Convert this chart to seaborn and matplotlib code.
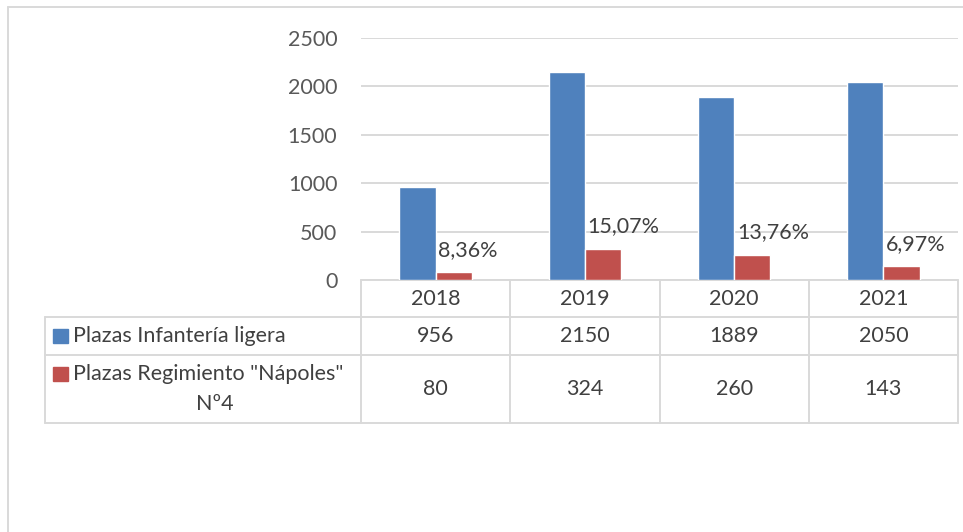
import matplotlib
matplotlib.use("Agg")
import matplotlib.pyplot as plt
from matplotlib.lines import Line2D
from matplotlib.patches import Rectangle
import pandas as pd
import seaborn as sns

# data
years = ["2018", "2019", "2020", "2021"]
infanteria = [956, 2150, 1889, 2050]
napoles = [80, 324, 260, 143]
pct_labels = ["8,36%", "15,07%", "13,76%", "6,97%"]
series_names = ["Plazas Infantería ligera", 'Plazas Regimiento "Nápoles"\nNº4']

BLUE = "#4F81BD"
RED = "#C0504D"
GRID = "#D9D9D9"
TXT = "#404040"
FS = 15.5

sns.set_style("white")
plt.rcParams["font.family"] = ["Lato", "DejaVu Sans"]

df = pd.DataFrame({
    "year": years * 2,
    "value": infanteria + napoles,
    "serie": ["inf"] * 4 + ["nap"] * 4,
})

W, H = 963, 532
fig = plt.figure(figsize=(W / 100, H / 100), dpi=100)
# plot area in pixels: x 361..958, y 38..280
ax = fig.add_axes([361 / W, 1 - 280 / H, 597 / W, 242 / H])

sns.barplot(data=df, x="year", y="value", hue="serie", palette=[BLUE, RED],
            width=0.485, saturation=1, legend=False, ax=ax, zorder=3)

ax.set_xlim(-0.5, 3.5)
ax.set_ylim(0, 2500)
ax.set_yticks([0, 500, 1000, 1500, 2000, 2500])
ax.yaxis.grid(True, color=GRID, lw=1.4, zorder=0)
ax.set_axisbelow(True)
for s in ax.spines.values():
    s.set_visible(False)
ax.tick_params(axis="y", length=0, pad=17, labelsize=FS, labelcolor="#595959")
ax.tick_params(axis="x", length=0, labelbottom=False)
ax.set_xlabel("")
ax.set_ylabel("")

# percentage labels above red bars
for bar, lab in zip(ax.containers[1], pct_labels):
    ax.annotate(lab, (bar.get_x(), bar.get_height()), xytext=(2, 9),
                textcoords="offset points", ha="left", va="bottom",
                fontsize=FS, color=TXT)

# data table below the plot
def px2x(px):
    return -0.5 + (px - 361) / 149.0

def px2y(py):
    return (280 - py) / 242.0

tr = ax.get_xaxis_transform()
kw = dict(color=GRID, lw=1.4, transform=tr, clip_on=False)
ax.add_line(Line2D([px2x(361), 3.5], [px2y(280)] * 2, **kw))
for py in [317, 355, 423]:
    ax.add_line(Line2D([px2x(46), 3.5], [px2y(py)] * 2, **kw))
for i in range(5):
    ax.add_line(Line2D([i - 0.5] * 2, [px2y(280), px2y(423)], **kw))
ax.add_line(Line2D([px2x(46)] * 2, [px2y(317), px2y(423)], **kw))

for i, y in enumerate(years):
    ax.text(i, px2y(299), y, ha="center", va="center", fontsize=FS,
            color=TXT, transform=tr)
    ax.text(i, px2y(336), str(infanteria[i]), ha="center", va="center",
            fontsize=FS, color=TXT, transform=tr)
    ax.text(i, px2y(389), str(napoles[i]), ha="center", va="center",
            fontsize=FS, color=TXT, transform=tr)

# row labels with legend keys
ax.add_patch(Rectangle((px2x(54), px2y(343)), 14 / 149, 14 / 242,
                       color=BLUE, transform=tr, clip_on=False))
ax.add_patch(Rectangle((px2x(54), px2y(381)), 14 / 149, 14 / 242,
                       color=RED, transform=tr, clip_on=False))
ax.text(px2x(73), px2y(336), series_names[0], ha="left", va="center",
        fontsize=FS, color=TXT, transform=tr)
line1, line2 = series_names[1].split("\n")
ax.text(px2x(73), px2y(374), line1, ha="left", va="center",
        fontsize=FS, color=TXT, transform=tr)
ax.text(px2x(215), px2y(404), line2, ha="center", va="center",
        fontsize=FS, color=TXT, transform=tr)

# chart frame
fig.add_artist(Line2D([8 / W, 8 / W], [0, 1 - 7 / H], color=GRID, lw=1.4))
fig.add_artist(Line2D([8 / W, 1], [1 - 7 / H] * 2, color=GRID, lw=1.4))

fig.savefig("out.png", dpi=100)
